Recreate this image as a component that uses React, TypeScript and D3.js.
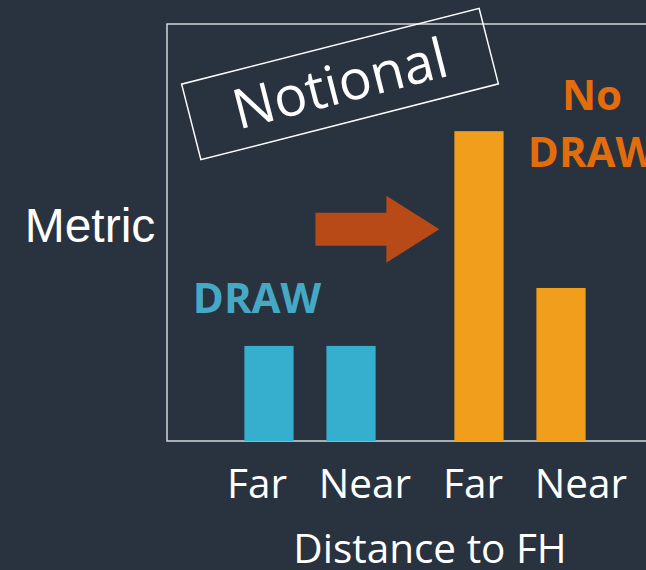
import React, { useEffect, useRef } from "react";
import * as d3 from "d3";

const width = 646;
const height = 570;
const space = { left: 167, right: -20, top: 24, bottom: 129 };

const groups = ["DRAW", "No DRAW"];
const distances = ["Far", "Near"];
const drawValues = [2.28, 2.28];
const noDrawValues = [7.43, 3.67];
const tickLabels = ["Far", "Near", "Far", "Near"];

const bg = "#29323f";
const colors = { DRAW: "#36afcf", "No DRAW": "#f19e1c" };
const labelColors = { DRAW: "#45a9c6", "No DRAW": "#e36c0c" };

const App = () => {
  const ref = useRef(null);

  useEffect(() => {
    const svg = d3.select(ref.current);
    svg.selectAll("*").remove();

    const data = [
      ...drawValues.map((v, i) => ({ group: "DRAW", dist: distances[i], value: v })),
      ...noDrawValues.map((v, i) => ({ group: "No DRAW", dist: distances[i], value: v })),
    ];

    const x0 = d3.scaleBand().domain(groups).range([205, 625]);
    const x1 = d3
      .scaleBand()
      .domain(distances)
      .range([0, x0.bandwidth()])
      .paddingInner(0.4)
      .paddingOuter(0.48);
    const y = d3.scaleLinear().domain([0, 10]).range([height - space.bottom, space.top]);

    svg.append("rect").attr("width", width).attr("height", height).attr("fill", bg);

    // frame
    svg
      .append("rect")
      .attr("x", space.left)
      .attr("y", space.top)
      .attr("width", width - space.left - space.right)
      .attr("height", height - space.bottom - space.top)
      .attr("fill", "none")
      .attr("stroke", "#d3d7dd")
      .attr("stroke-width", 1.5);

    // bars
    svg
      .append("g")
      .selectAll("rect")
      .data(data)
      .join("rect")
      .attr("x", (d) => x0(d.group) + x1(d.dist))
      .attr("y", (d) => y(d.value))
      .attr("width", x1.bandwidth())
      .attr("height", (d) => y(0) - y(d.value))
      .attr("fill", (d) => colors[d.group]);

    // tick labels (evenly spaced row below axis)
    const xl = d3.scaleBand().domain(d3.range(tickLabels.length)).range([203, 635]);
    svg
      .append("g")
      .selectAll("text")
      .data(tickLabels)
      .join("text")
      .attr("x", (d, i) => xl(i) + xl.bandwidth() / 2)
      .attr("y", 498)
      .attr("text-anchor", "middle")
      .attr("font-family", "Open Sans")
      .attr("font-size", 40.5)
      .attr("fill", "#ffffff")
      .text((d) => d);

    svg
      .append("text")
      .attr("x", 430)
      .attr("y", 563)
      .attr("text-anchor", "middle")
      .attr("font-family", "Open Sans")
      .attr("font-size", 40.5)
      .attr("fill", "#ffffff")
      .text("Distance to FH");

    svg
      .append("text")
      .attr("x", 90)
      .attr("y", 242)
      .attr("text-anchor", "middle")
      .attr("font-family", "Liberation Sans")
      .attr("font-size", 48)
      .attr("fill", "#ffffff")
      .text("Metric");

    // group labels
    svg
      .append("text")
      .attr("x", 257)
      .attr("y", 313)
      .attr("text-anchor", "middle")
      .attr("font-family", "Open Sans")
      .attr("font-weight", "bold")
      .attr("font-size", 42)
      .attr("fill", labelColors.DRAW)
      .text("DRAW");

    const nd = svg
      .append("text")
      .attr("text-anchor", "middle")
      .attr("font-family", "Open Sans")
      .attr("font-weight", "bold")
      .attr("font-size", 42)
      .attr("fill", labelColors["No DRAW"]);
    nd.append("tspan").attr("x", 592).attr("y", 110).text("No");
    nd.append("tspan").attr("x", 592).attr("y", 167).text("DRAW");

    // arrow from DRAW group toward No DRAW Far bar
    const ay = y(5.08);
    const ax0 = x0("DRAW") + x1("Near") - 11;
    const ax1 = x0("No DRAW") + x1("Far") - 15;
    const headLen = 53;
    const shaft = 16.5;
    const head = 33.5;
    svg
      .append("path")
      .attr(
        "d",
        d3.line()([
          [ax0, ay - shaft],
          [ax1 - headLen, ay - shaft],
          [ax1 - headLen, ay - head],
          [ax1, ay],
          [ax1 - headLen, ay + head],
          [ax1 - headLen, ay + shaft],
          [ax0, ay + shaft],
        ]) + "Z"
      )
      .attr("fill", "#b84a18");

    // Notional stamp
    const stamp = svg.append("g").attr("transform", "translate(340,84) rotate(-14.3)");
    stamp
      .append("rect")
      .attr("x", -153.5)
      .attr("y", -39)
      .attr("width", 307)
      .attr("height", 78)
      .attr("fill", "none")
      .attr("stroke", "#ffffff")
      .attr("stroke-width", 1.5);
    stamp
      .append("text")
      .attr("x", 0)
      .attr("y", 19)
      .attr("text-anchor", "middle")
      .attr("font-family", "Open Sans")
      .attr("font-size", 55)
      .attr("fill", "#ffffff")
      .text("Notional");
  }, []);

  return (
    <svg
      ref={ref}
      width={width}
      height={height}
      style={{ position: "absolute", left: 0, top: 0, display: "block" }}
    />
  );
};

export default App;
